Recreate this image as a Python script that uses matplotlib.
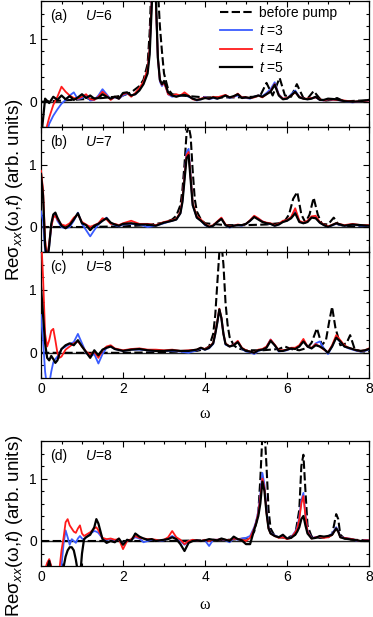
import matplotlib
matplotlib.use("Agg")
import matplotlib.pyplot as plt
from matplotlib.ticker import MultipleLocator

plt.rcParams['font.family'] = ['Liberation Sans', 'DejaVu Sans']
plt.rcParams['mathtext.fontset'] = 'custom'
plt.rcParams['mathtext.rm'] = 'Liberation Sans'
plt.rcParams['mathtext.it'] = 'Liberation Sans:italic'

# ---------------- data ----------------
labels = ["(a)", "(b)", "(c)", "(d)"]
U_vals = [6, 7, 8, 8]
legend_labels = ["before pump", "$t$ =3", "$t$ =4", "$t$ =5"]

# panel (a), U=6
w_a = [0.0, 0.1, 0.2, 0.3, 0.4, 0.5, 0.6, 0.7, 0.8, 0.9, 1.0, 1.1, 1.2, 1.3, 1.4, 1.5, 1.6, 1.7, 1.8, 1.9,
       2.0, 2.1, 2.2, 2.3, 2.4, 2.5, 2.6, 2.65, 2.7, 2.75, 2.8, 2.85, 2.9, 2.95, 3.0, 3.05, 3.1, 3.2, 3.3, 3.4,
       3.5, 3.6, 3.7, 3.8, 3.9, 4.0, 4.1, 4.2, 4.3, 4.4, 4.5, 4.6, 4.7, 4.8, 4.9, 5.0, 5.1, 5.2, 5.3, 5.4,
       5.5, 5.6, 5.7, 5.8, 5.9, 6.0, 6.1, 6.2, 6.3, 6.4, 6.5, 6.6, 6.7, 6.8, 6.9, 7.0, 7.2, 7.4, 7.6, 7.8, 8.0]
t3_a = [-0.6, -0.6, -0.35, -0.22, -0.12, -0.03, 0.03, 0.1, 0.15, 0.04, 0.06, 0.1, 0.02, 0.03, 0.1, 0.2, 0.12, 0.04, 0.07, 0.05,
        0.1, 0.13, 0.1, 0.12, 0.2, 0.3, 0.5, 0.8, 1.6, 2.1, 1.6, 0.7, 0.32, 0.25, 0.3, 0.22, 0.12, 0.08, 0.1, 0.09,
        0.12, 0.08, 0.05, 0.02, 0.04, 0.08, 0.04, 0.06, 0.05, 0.08, 0.1, 0.06, 0.08, 0.1, 0.07, 0.06, 0.05, 0.08, 0.1, 0.09,
        0.14, 0.2, 0.31, 0.12, 0.05, 0.05, 0.12, 0.18, 0.08, 0.05, 0.04, 0.06, 0.07, 0.03, 0.02, 0.04, 0.03, 0.01, -0.01, 0.01, 0.02]
t4_a = [-0.6, -0.5, -0.25, -0.05, 0.08, 0.24, 0.16, 0.1, 0.06, 0.05, 0.08, 0.12, 0.04, 0.03, 0.08, 0.16, 0.1, 0.03, 0.08, 0.05,
        0.12, 0.14, 0.08, 0.14, 0.22, 0.32, 0.52, 0.85, 1.6, 2.1, 1.6, 0.7, 0.34, 0.27, 0.3, 0.22, 0.12, 0.1, 0.12, 0.1,
        0.15, 0.1, 0.04, 0.03, 0.05, 0.07, 0.05, 0.08, 0.07, 0.09, 0.11, 0.07, 0.08, 0.13, 0.07, 0.07, 0.06, 0.07, 0.1, 0.07,
        0.12, 0.17, 0.28, 0.11, 0.05, 0.06, 0.1, 0.15, 0.08, 0.05, 0.05, 0.06, 0.07, 0.04, 0.02, 0.04, 0.03, 0.02, 0.0, 0.01, 0.02]
t5_a = [-0.6, 0.05, -0.02, 0.08, 0.03, 0.1, 0.04, 0.09, 0.03, 0.07, 0.12, 0.06, 0.1, 0.05, 0.06, 0.12, 0.08, 0.05, 0.08, 0.05,
        0.14, 0.15, 0.1, 0.12, 0.18, 0.28, 0.45, 0.75, 1.5, 2.2, 1.7, 0.7, 0.35, 0.28, 0.33, 0.25, 0.15, 0.1, 0.08, 0.1,
        0.11, 0.09, 0.05, 0.03, 0.04, 0.06, 0.05, 0.07, 0.05, 0.07, 0.1, 0.07, 0.09, 0.12, 0.06, 0.07, 0.06, 0.08, 0.1, 0.08,
        0.12, 0.16, 0.27, 0.1, 0.04, 0.05, 0.1, 0.16, 0.07, 0.05, 0.04, 0.05, 0.08, 0.03, 0.03, 0.05, 0.04, 0.01, 0.0, 0.01, 0.03]
wb_a = [0.0, 0.5, 1.0, 1.5, 1.8, 2.0, 2.2, 2.4, 2.5, 2.6, 2.65, 2.7, 2.75, 2.8, 2.85, 2.9, 2.95, 3.0, 3.1, 3.2,
        3.4, 3.6, 3.8, 4.0, 4.4, 4.8, 5.2, 5.35, 5.5, 5.65, 5.82, 5.95, 6.1, 6.24, 6.4, 6.5, 6.65, 6.8, 6.95, 7.1,
        7.22, 7.35, 7.5, 7.8, 8.0]
bp_a = [0.0, 0.02, 0.04, 0.06, 0.08, 0.1, 0.15, 0.25, 0.35, 0.6, 1.1, 2.0, 2.6, 2.4, 1.8, 1.2, 0.8, 0.45, 0.2, 0.12,
        0.1, 0.09, 0.08, 0.07, 0.07, 0.07, 0.08, 0.1, 0.3, 0.1, 0.38, 0.1, 0.08, 0.28, 0.06, 0.05, 0.17, 0.05, 0.02, 0.03,
        0.06, 0.02, 0.01, 0.02, 0.02]

# panel (b), U=7
w_b = [0.0, 0.05, 0.1, 0.15, 0.2, 0.25, 0.3, 0.35, 0.4, 0.5, 0.6, 0.7, 0.8, 0.9, 1.0, 1.1, 1.2, 1.3, 1.4, 1.5,
       1.6, 1.7, 1.8, 1.9, 2.0, 2.2, 2.4, 2.6, 2.8, 3.0, 3.2, 3.3, 3.4, 3.45, 3.5, 3.55, 3.6, 3.65, 3.7, 3.8,
       3.9, 4.0, 4.1, 4.2, 4.3, 4.4, 4.5, 4.6, 4.7, 4.8, 4.9, 5.0, 5.1, 5.2, 5.3, 5.4, 5.5, 5.6, 5.7, 5.8,
       5.9, 6.0, 6.1, 6.2, 6.3, 6.4, 6.5, 6.6, 6.7, 6.8, 6.9, 7.0, 7.2, 7.4, 7.6, 7.8, 8.0]
t3_b = [0.25, 0.1, -0.4, -0.55, -0.3, 0.0, 0.18, 0.2, 0.1, 0.0, -0.02, 0.0, 0.1, 0.23, 0.05, -0.05, -0.15, -0.05, 0.04, 0.1,
        0.15, 0.06, 0.03, 0.01, 0.04, 0.05, 0.04, 0.0, 0.02, 0.06, 0.1, 0.12, 0.22, 0.42, 0.8, 1.2, 1.25, 0.8, 0.35, 0.15,
        0.1, 0.03, 0.0, 0.02, 0.08, 0.14, 0.03, -0.01, 0.02, 0.03, 0.02, 0.05, 0.1, 0.17, 0.13, 0.09, 0.06, 0.05, 0.02, 0.04,
        0.09, 0.1, 0.15, 0.27, 0.09, 0.06, 0.09, 0.16, 0.16, 0.07, 0.03, 0.0, 0.05, 0.02, 0.04, 0.02, 0.02]
t4_b = [0.9, 0.6, -0.2, -0.5, -0.25, 0.0, 0.15, 0.18, 0.12, 0.04, 0.02, 0.06, 0.15, 0.2, 0.08, 0.04, 0.0, 0.03, 0.06, 0.14,
        0.12, 0.05, 0.05, 0.03, 0.06, 0.1, 0.05, 0.05, 0.03, 0.08, 0.11, 0.13, 0.24, 0.45, 0.8, 1.15, 1.2, 0.8, 0.38, 0.17,
        0.12, 0.05, 0.01, 0.03, 0.09, 0.15, 0.04, 0.01, 0.02, 0.04, 0.03, 0.05, 0.11, 0.18, 0.14, 0.09, 0.07, 0.06, 0.03, 0.05,
        0.1, 0.11, 0.16, 0.3, 0.1, 0.07, 0.1, 0.17, 0.18, 0.08, 0.04, 0.01, 0.06, 0.03, 0.05, 0.03, 0.03]
t5_b = [0.85, 0.5, -0.3, -0.55, -0.3, 0.05, 0.2, 0.23, 0.15, 0.02, -0.02, 0.03, 0.12, 0.22, 0.06, 0.03, -0.05, 0.02, 0.05, 0.1,
        0.14, 0.07, 0.04, 0.02, 0.05, 0.06, 0.04, 0.04, 0.02, 0.07, 0.1, 0.12, 0.22, 0.4, 0.75, 1.1, 1.15, 0.75, 0.35, 0.15,
        0.1, 0.04, 0.0, 0.02, 0.08, 0.13, 0.03, 0.0, 0.02, 0.03, 0.03, 0.05, 0.1, 0.16, 0.12, 0.08, 0.06, 0.05, 0.02, 0.04,
        0.08, 0.1, 0.14, 0.22, 0.08, 0.06, 0.08, 0.15, 0.14, 0.07, 0.03, 0.0, 0.06, 0.02, 0.04, 0.03, 0.02]
wb_b = [0.0, 1.0, 2.0, 2.6, 3.0, 3.2, 3.3, 3.4, 3.45, 3.5, 3.55, 3.6, 3.65, 3.7, 3.75, 3.8, 3.9, 4.0, 4.5, 5.0,
        5.5, 5.8, 5.95, 6.05, 6.15, 6.25, 6.35, 6.45, 6.55, 6.65, 6.75, 6.85, 7.0, 7.14, 7.25, 7.4, 7.7, 8.0]
bp_b = [0.0, 0.0, 0.01, 0.03, 0.07, 0.12, 0.18, 0.35, 0.6, 1.0, 1.5, 1.62, 1.45, 0.9, 0.45, 0.25, 0.12, 0.06, 0.03, 0.03,
        0.04, 0.06, 0.1, 0.2, 0.45, 0.56, 0.2, 0.07, 0.2, 0.47, 0.2, 0.05, 0.04, 0.15, 0.04, 0.02, 0.01, 0.01]

# panel (c), U=8
w_c = [0.0, 0.05, 0.1, 0.15, 0.2, 0.25, 0.3, 0.35, 0.4, 0.45, 0.5, 0.6, 0.7, 0.8, 0.9, 1.0, 1.1, 1.2, 1.3, 1.4,
       1.5, 1.6, 1.7, 1.8, 2.0, 2.2, 2.4, 2.6, 2.8, 3.0, 3.2, 3.4, 3.6, 3.8, 3.9, 4.0, 4.1, 4.2, 4.25, 4.3,
       4.35, 4.4, 4.45, 4.5, 4.6, 4.7, 4.8, 4.9, 5.0, 5.1, 5.2, 5.3, 5.4, 5.5, 5.6, 5.7, 5.8, 5.9, 6.0, 6.1,
       6.2, 6.3, 6.4, 6.5, 6.6, 6.7, 6.8, 6.9, 7.0, 7.1, 7.2, 7.3, 7.4, 7.5, 7.6, 7.7, 7.8, 7.9, 8.0]
t3_c = [0.6, 0.2, -0.3, -0.55, -0.5, -0.3, -0.15, -0.1, -0.06, 0.0, 0.06, 0.1, 0.14, 0.17, 0.3, 0.15, 0.0, -0.06, -0.02, -0.17,
        -0.02, 0.08, 0.1, 0.06, 0.03, 0.05, 0.05, 0.04, 0.03, 0.03, 0.03, 0.02, 0.0, 0.04, 0.07, 0.05, 0.07, 0.14, 0.3, 0.48,
        0.68, 0.55, 0.3, 0.13, 0.1, 0.13, 0.18, 0.06, 0.02, 0.01, -0.02, 0.03, 0.05, 0.09, 0.21, 0.12, 0.02, 0.03, 0.04, 0.07,
        0.07, 0.1, 0.2, 0.1, 0.07, 0.15, 0.18, 0.07, -0.02, 0.1, 0.25, 0.17, 0.1, 0.07, 0.05, 0.03, 0.02, 0.03, 0.05]
t4_c = [1.9, 1.2, 0.3, 0.1, 0.2, 0.35, 0.38, 0.2, 0.0, -0.08, -0.06, 0.05, 0.1, 0.15, 0.18, 0.1, 0.02, -0.03, 0.02, -0.08,
        0.04, 0.1, 0.12, 0.07, 0.04, 0.06, 0.07, 0.05, 0.05, 0.04, 0.05, 0.03, 0.04, 0.05, 0.08, 0.06, 0.09, 0.16, 0.32, 0.5,
        0.7, 0.56, 0.3, 0.15, 0.1, 0.13, 0.19, 0.08, 0.04, 0.02, 0.0, 0.05, 0.06, 0.1, 0.21, 0.13, 0.04, 0.04, 0.05, 0.08,
        0.08, 0.12, 0.22, 0.1, 0.08, 0.14, 0.1, 0.05, 0.01, 0.12, 0.28, 0.2, 0.12, 0.08, 0.06, 0.04, 0.03, 0.04, 0.07]
t5_c = [1.05, 0.6, 0.15, -0.08, -0.12, -0.05, -0.1, -0.16, -0.12, -0.02, 0.06, 0.12, 0.15, 0.12, 0.2, 0.1, 0.01, -0.08, 0.04, -0.04,
        0.05, 0.08, 0.1, 0.06, 0.03, 0.05, 0.06, 0.04, 0.03, 0.03, 0.04, 0.03, 0.03, 0.05, 0.08, 0.05, 0.08, 0.15, 0.3, 0.48,
        0.69, 0.55, 0.3, 0.14, 0.1, 0.12, 0.17, 0.07, 0.03, 0.02, 0.0, 0.04, 0.05, 0.08, 0.19, 0.12, 0.03, 0.03, 0.05, 0.07,
        0.06, 0.1, 0.18, 0.1, 0.07, 0.12, 0.1, 0.06, 0.0, 0.1, 0.24, 0.18, 0.1, 0.08, 0.06, 0.04, 0.03, 0.04, 0.06]
wb_c = [0.0, 1.0, 2.0, 3.0, 3.8, 4.0, 4.1, 4.2, 4.25, 4.3, 4.35, 4.4, 4.45, 4.5, 4.55, 4.6, 4.7, 4.8, 5.0, 5.4,
        5.8, 5.95, 6.1, 6.3, 6.5, 6.6, 6.73, 6.85, 6.95, 7.03, 7.1, 7.18, 7.3, 7.45, 7.54, 7.65, 7.8, 8.0]
bp_c = [0.0, 0.0, 0.0, 0.01, 0.03, 0.06, 0.1, 0.3, 0.6, 1.1, 1.6, 1.75, 1.4, 0.8, 0.45, 0.25, 0.12, 0.07, 0.04, 0.04,
        0.06, 0.1, 0.06, 0.04, 0.08, 0.16, 0.39, 0.12, 0.2, 0.5, 0.73, 0.4, 0.12, 0.15, 0.28, 0.06, 0.02, 0.02]

# panel (d), U=8 (second run)
w_d = [0.0, 0.1, 0.15, 0.2, 0.25, 0.3, 0.4, 0.45, 0.5, 0.55, 0.6, 0.65, 0.7, 0.75, 0.8, 0.85, 0.9, 0.95, 1.0, 1.05,
       1.1, 1.2, 1.3, 1.35, 1.4, 1.5, 1.6, 1.7, 1.8, 1.9, 2.0, 2.1, 2.2, 2.3, 2.4, 2.5, 2.6, 2.7, 2.8, 2.9,
       3.0, 3.1, 3.2, 3.3, 3.4, 3.5, 3.6, 3.7, 3.8, 3.9, 4.0, 4.1, 4.2, 4.3, 4.4, 4.5, 4.6, 4.7, 4.8, 4.9,
       5.0, 5.1, 5.2, 5.25, 5.3, 5.35, 5.4, 5.45, 5.5, 5.55, 5.6, 5.7, 5.8, 5.9, 6.0, 6.1, 6.2, 6.25, 6.3, 6.35,
       6.4, 6.45, 6.5, 6.6, 6.7, 6.8, 6.9, 7.0, 7.1, 7.15, 7.2, 7.25, 7.3, 7.4, 7.5, 7.6, 7.7, 7.8, 7.9, 8.0]
t3_d = [-0.6, -0.5, -0.38, -0.3, -0.42, -0.6, -0.6, -0.6, -0.4, -0.05, 0.17, 0.06, -0.06, 0.03, 0.0, -0.03, 0.04, 0.08, 0.04, 0.02,
        0.06, 0.12, 0.16, 0.15, 0.13, 0.04, 0.02, 0.03, 0.01, 0.02, -0.05, 0.01, 0.02, 0.06, 0.04, -0.02, 0.0, 0.02, 0.01, 0.0,
        0.01, 0.04, 0.08, 0.04, 0.0, -0.06, 0.0, 0.01, 0.01, 0.0, 0.01, -0.08, 0.02, 0.02, 0.03, 0.01, -0.02, 0.04, 0.02, 0.04,
        0.05, 0.08, 0.22, 0.32, 0.48, 0.75, 1.09, 0.9, 0.5, 0.22, 0.13, 0.09, 0.06, 0.07, 0.04, 0.06, 0.15, 0.22, 0.38, 0.65,
        0.77, 0.42, 0.16, 0.05, 0.06, 0.07, 0.06, 0.07, 0.12, 0.17, 0.22, 0.16, 0.07, 0.05, 0.04, 0.03, 0.0, 0.0, 0.01, 0.01]
t4_d = [-0.6, -0.45, -0.35, -0.29, -0.4, -0.6, -0.6, -0.45, -0.15, 0.05, 0.3, 0.35, 0.25, 0.2, 0.15, 0.13, 0.2, 0.25, 0.12, 0.08,
        0.1, 0.14, 0.2, 0.22, 0.17, 0.05, 0.03, 0.04, 0.02, 0.03, -0.13, 0.0, 0.03, 0.08, 0.05, 0.04, 0.03, 0.03, 0.02, 0.01,
        0.02, 0.06, 0.16, 0.06, 0.02, -0.05, 0.0, 0.02, 0.01, 0.0, 0.02, 0.0, 0.02, 0.02, 0.03, 0.02, 0.01, 0.04, 0.03, 0.02,
        0.0, 0.05, 0.2, 0.3, 0.45, 0.7, 1.0, 0.85, 0.45, 0.2, 0.12, 0.08, 0.05, 0.06, 0.03, 0.05, 0.14, 0.2, 0.35, 0.6,
        0.72, 0.4, 0.15, 0.04, 0.06, 0.07, 0.05, 0.06, 0.1, 0.15, 0.2, 0.15, 0.06, 0.05, 0.04, 0.03, 0.01, 0.0, 0.01, 0.01]
t5_d = [-0.6, -0.6, -0.45, -0.32, -0.45, -0.6, -0.6, -0.6, -0.6, -0.42, -0.25, -0.15, -0.1, -0.1, -0.15, -0.3, -0.5, -0.6, -0.2, 0.03,
        0.06, 0.1, 0.22, 0.35, 0.28, 0.03, -0.03, 0.0, -0.02, 0.04, -0.06, 0.02, 0.0, 0.12, 0.07, 0.04, 0.02, 0.03, 0.0, 0.01,
        0.02, 0.03, 0.06, 0.03, -0.05, -0.16, -0.03, 0.0, 0.01, 0.0, 0.01, 0.03, 0.02, 0.01, 0.04, 0.02, 0.0, 0.07, 0.03, 0.01,
        -0.05, -0.05, 0.18, 0.28, 0.4, 0.6, 0.95, 0.8, 0.45, 0.2, 0.12, 0.08, 0.06, 0.1, 0.04, 0.05, 0.1, 0.15, 0.22, 0.35,
        0.4, 0.25, 0.12, 0.04, 0.05, 0.08, 0.07, 0.08, 0.1, 0.15, 0.2, 0.15, 0.06, 0.04, 0.03, 0.02, 0.01, 0.0, 0.0, 0.0]
wb_d = [0.0, 1.0, 2.0, 3.0, 4.0, 4.6, 5.0, 5.1, 5.2, 5.3, 5.35, 5.4, 5.45, 5.5, 5.55, 5.6, 5.7, 5.8, 6.0, 6.2,
        6.3, 6.35, 6.4, 6.45, 6.5, 6.6, 6.8, 7.0, 7.1, 7.2, 7.25, 7.3, 7.4, 7.6, 8.0]
bp_d = [0.0, 0.0, 0.0, 0.0, 0.01, 0.02, 0.04, 0.06, 0.15, 0.45, 1.0, 1.7, 1.8, 1.2, 0.5, 0.2, 0.08, 0.06, 0.05, 0.1,
        0.5, 1.2, 1.38, 0.8, 0.25, 0.07, 0.05, 0.06, 0.1, 0.43, 0.35, 0.1, 0.04, 0.02, 0.01]

panels = [
    (w_a, t3_a, t4_a, t5_a, wb_a, bp_a),
    (w_b, t3_b, t4_b, t5_b, wb_b, bp_b),
    (w_c, t3_c, t4_c, t5_c, wb_c, bp_c),
    (w_d, t3_d, t4_d, t5_d, wb_d, bp_d),
]
for p in panels:
    assert len(p[0]) == len(p[1]) == len(p[2]) == len(p[3]), [len(v) for v in p[:4]]
    assert len(p[4]) == len(p[5])

# ---------------- figure ----------------
W, H = 373, 617
fig = plt.figure(figsize=(W / 100, H / 100), dpi=100)

def px_rect(top, bottom, left=41, right=369):
    return [left / W, 1 - bottom / H, (right - left) / W, (bottom - top) / H]

rects = [px_rect(1, 127), px_rect(127, 252), px_rect(252, 378), px_rect(441, 566)]

BLUE = '#3a5cff'
RED = '#ff1a1a'

axes = []
for i, (rect, p) in enumerate(zip(rects, panels)):
    w, t3, t4, t5, wb, bp = p
    ax = fig.add_axes(rect)
    ax.axhline(0, color='#222222', lw=1.0, zorder=1)
    ax.plot(wb, bp, color='black', lw=1.5, dashes=(4, 1.6), label=legend_labels[0], zorder=2)
    ax.plot(w, t3, color=BLUE, lw=1.3, label=legend_labels[1], zorder=3)
    ax.plot(w, t4, color=RED, lw=1.3, label=legend_labels[2], zorder=4)
    ax.plot(w, t5, color='black', lw=1.6, label=legend_labels[3], zorder=5)
    ax.set_xlim(0, 8)
    ax.set_ylim(-0.4, 1.6)
    ax.xaxis.set_major_locator(MultipleLocator(2))
    ax.xaxis.set_minor_locator(MultipleLocator(0.5))
    ax.yaxis.set_major_locator(MultipleLocator(1))
    ax.yaxis.set_minor_locator(MultipleLocator(0.2))
    ax.tick_params(which='both', direction='in', top=True, right=True, labelsize=10, width=0.8)
    ax.tick_params(which='major', length=4.5, pad=3)
    ax.tick_params(which='minor', length=2.5)
    for s in ax.spines.values():
        s.set_linewidth(0.9)
    if i in (0, 1):
        ax.tick_params(labelbottom=False)
    ax.text(0.028, 0.88, labels[i], transform=ax.transAxes, fontsize=10, va='center')
    ax.text(0.134, 0.88, "$U$=%d" % U_vals[i], transform=ax.transAxes, fontsize=10, va='center')
    axes.append(ax)

axes[0].legend(loc='upper left', bbox_to_anchor=(0.545, 0.96), frameon=False, fontsize=10,
               handlelength=2.3, handletextpad=0.5, labelspacing=0.3, borderpad=0, borderaxespad=0)

ylab = "Reσ$_{xx}$(ω,$t$) (arb. units)"
fig.text(15 / W, 1 - 190 / H, ylab, rotation=90, ha='center', va='center', fontsize=13.5)
fig.text(15 / W, 1 - 526 / H, ylab, rotation=90, ha='center', va='center', fontsize=13.5)
fig.text(205 / W, 1 - 414 / H, "ω", ha='center', va='center', fontsize=11.5, family='Liberation Serif')
fig.text(205 / W, 1 - 605 / H, "ω", ha='center', va='center', fontsize=11.5, family='Liberation Serif')

fig.savefig("out.png", dpi=100)
